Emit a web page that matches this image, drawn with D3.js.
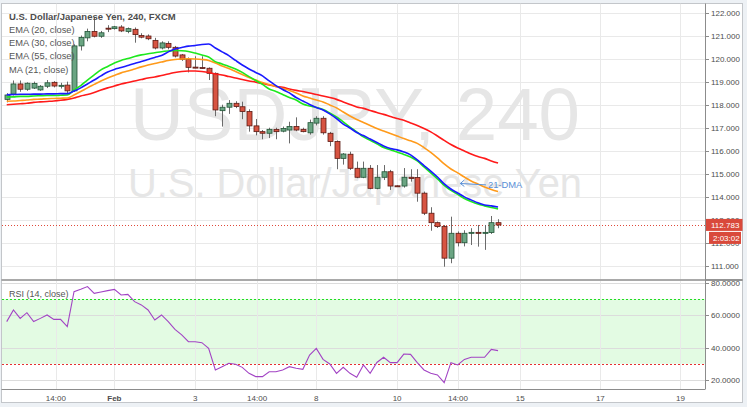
<!DOCTYPE html>
<html><head><meta charset="utf-8">
<script src="https://cdn.jsdelivr.net/npm/d3@7"></script>
<style>
body{margin:0;background:#edf1f5;}
svg{display:block;font-family:"Liberation Sans",Arial,sans-serif;}
</style>
</head><body>
<svg id="c" width="747" height="407"></svg>
<script>
// ---------- DATA ----------
const opens=[118.23,118.46,118.90,118.67,118.72,118.64,118.80,118.97,118.80,118.85,
118.60,120.55,120.90,121.18,120.97,121.32,121.30,121.37,121.18,121.27,
121.00,120.98,120.79,120.46,120.66,120.49,120.16,119.97,119.63,119.61,
119.58,119.36,117.74,117.89,118.06,117.91,117.70,117.08,116.83,116.76,
116.93,116.85,116.90,117.05,116.93,116.78,117.20,117.41,116.76,116.40,
115.67,115.85,115.24,114.85,115.24,114.37,114.85,115.09,114.48,114.47,
114.85,114.84,114.16,113.29,112.88,112.71,111.34,112.42,112.01,112.43,
112.46,112.44,112.45,112.88];
const highs=[118.50,119.05,119.05,118.97,119.00,118.85,119.07,119.02,118.95,119.00,
120.62,121.00,121.30,121.80,121.20,121.45,121.42,121.45,121.35,121.35,
121.10,121.05,120.90,120.75,120.75,120.55,120.20,120.05,120.10,120.10,
119.62,119.40,118.00,118.20,118.15,118.13,117.80,117.38,116.90,117.00,
117.00,117.05,117.26,117.45,117.00,117.35,117.50,117.50,116.82,116.45,
115.90,115.96,115.53,115.53,115.38,115.38,115.38,115.17,114.50,115.25,
115.20,115.20,114.23,113.55,112.93,112.78,113.14,112.50,112.55,112.64,
112.78,112.78,113.17,113.03];
const lows=[118.10,118.40,118.56,118.60,118.68,118.60,118.72,118.75,118.70,118.50,
118.55,120.35,120.75,120.92,120.90,121.15,121.26,121.15,121.10,120.69,
120.88,120.80,120.40,120.40,120.40,120.05,119.90,119.40,119.58,119.56,
119.07,117.50,117.05,117.60,117.85,117.37,116.83,116.67,116.50,116.55,
116.50,116.80,116.32,116.85,116.80,116.70,117.10,116.70,116.20,115.20,
115.40,115.17,114.81,114.81,114.33,114.33,114.73,114.30,114.45,114.40,
114.66,113.79,113.21,112.53,112.65,110.97,111.12,111.85,111.85,111.91,
111.84,111.70,112.39,112.64];
const closes=[118.42,118.90,118.67,118.93,118.92,118.80,118.95,118.81,118.84,118.60,
120.55,120.92,121.18,120.97,121.12,121.28,121.38,121.20,121.30,121.04,
120.93,120.86,120.46,120.68,120.49,120.11,119.97,119.62,119.60,119.60,
119.36,117.77,117.89,118.06,117.92,117.70,117.08,116.83,116.76,116.93,
116.83,116.97,117.05,116.90,116.83,117.22,117.41,116.78,116.40,115.67,
115.86,115.24,114.85,115.24,114.37,114.85,115.09,114.47,114.47,114.85,
114.80,114.16,113.29,112.88,112.71,111.34,112.42,112.01,112.42,112.46,
112.44,112.46,112.88,112.78];

const ema20=[118.33,118.34,118.36,118.36,118.38,118.39,118.40,118.40,118.41,118.42,
118.64,118.83,119.07,119.29,119.51,119.66,119.81,119.92,120.00,120.09,
120.16,120.21,120.25,120.30,120.33,120.35,120.34,120.31,120.24,120.16,
120.07,119.87,119.77,119.66,119.55,119.40,119.22,119.05,118.88,118.68,
118.57,118.44,118.31,118.20,118.03,117.94,117.88,117.79,117.64,117.47,
117.25,117.03,116.82,116.60,116.45,116.30,116.14,116.04,115.95,115.84,
115.73,115.56,115.30,115.04,114.78,114.50,114.28,114.11,113.93,113.80,
113.69,113.61,113.54,113.48];
const ma21=[118.43,118.44,118.45,118.45,118.46,118.46,118.47,118.47,118.48,118.48,
118.59,118.73,118.90,119.07,119.25,119.42,119.53,119.61,119.70,119.79,
119.87,119.96,120.05,120.13,120.29,120.42,120.48,120.54,120.57,120.61,
120.63,120.46,120.29,120.13,119.92,119.72,119.55,119.40,119.25,119.03,
118.83,118.66,118.51,118.31,118.16,118.01,117.88,117.77,117.60,117.40,
117.16,116.99,116.79,116.66,116.51,116.36,116.21,116.10,116.04,115.95,
115.82,115.60,115.36,115.12,114.86,114.56,114.34,114.17,114.00,113.87,
113.74,113.65,113.61,113.56];
const ema30=[118.15,118.16,118.18,118.20,118.23,118.24,118.26,118.27,118.28,118.29,
118.42,118.57,118.73,118.88,119.03,119.16,119.27,119.38,119.46,119.55,
119.64,119.72,119.79,119.85,119.92,119.96,119.98,119.99,119.98,119.96,
119.92,119.81,119.68,119.57,119.44,119.31,119.18,119.07,118.96,118.88,
118.79,118.70,118.62,118.51,118.38,118.29,118.20,118.12,117.99,117.86,
117.68,117.51,117.36,117.23,117.10,116.97,116.86,116.75,116.64,116.53,
116.43,116.32,116.14,115.93,115.69,115.43,115.21,115.04,114.86,114.69,
114.56,114.43,114.32,114.23];
const ema55=[118.00,118.02,118.04,118.06,118.10,118.12,118.14,118.16,118.19,118.23,
118.29,118.38,118.44,118.53,118.64,118.73,118.81,118.90,118.96,119.03,
119.09,119.16,119.20,119.27,119.33,119.40,119.44,119.46,119.46,119.44,
119.40,119.33,119.29,119.22,119.16,119.09,119.03,118.98,118.92,118.85,
118.79,118.75,118.68,118.62,118.57,118.51,118.44,118.38,118.31,118.23,
118.12,118.01,117.90,117.84,117.75,117.66,117.58,117.49,117.40,117.32,
117.21,117.10,116.97,116.82,116.64,116.45,116.27,116.12,115.99,115.86,
115.75,115.67,115.56,115.47];

const rsi=[56.0,63.2,58.0,61.5,56.0,58.0,60.1,57.4,57.4,52.9,
74.5,75.9,77.6,73.4,74.3,75.1,75.9,72.4,72.8,68.3,
66.3,63.2,57.0,60.1,56.0,51.2,47.8,43.6,43.6,43.0,
39.5,26.2,28.2,30.3,29.7,27.8,24.1,22.1,22.1,25.1,
25.1,26.2,28.2,27.2,26.6,35.4,39.5,32.7,29.9,24.1,
27.8,24.1,21.7,29.3,24.1,30.8,34.0,30.7,30.7,36.0,
35.8,30.7,26.2,24.1,23.1,18.4,30.7,29.3,32.7,34.0,
34.0,34.0,38.9,38.1];

const priceTicks=[111,112,113,114,115,116,117,118,119,120,121,122];
const rsiTicks=[20,40,60,80];
const rsiBands=[30,70];
const timeTickIdx=[7.3,16,28,37.2,46,58,67.05,76.3,88.2,100.1];
const timeTickLabels=["14:00","Feb","3","14:00","8","10","14:00","15","17","19"];
const boldTicks=["Feb"];
const titleText="U.S. Dollar/Japanese Yen, 240, FXCM";
const legendLabels=["EMA (20, close)","EMA (30, close)","EMA (55, close)","MA (21, close)"];
const rsiLabel="RSI (14, close)";
const lastPrice=112.783;
const countdown="2:03:02";
const watermark1="USDJPY, 240";
const watermark2="U.S. Dollar/Japanese Yen";
const annotationText="21-DMA";

// ---------- LAYOUT ----------
const svg=d3.select("#c");
const L=2,R=705,T=3.5,MB=279.5,RT=280.5,RB=389;
const x=d3.scaleLinear().domain([-0.7,103.75]).range([L,R]);
const y=d3.scaleLinear().domain([111,122]).range([266,12.5]);
const yr=d3.scaleLinear().domain([20,80]).range([380,282.7]);

// card
svg.append("rect").attr("x",1.5).attr("y",3.5).attr("width",741).attr("height",399)
  .attr("fill","#fff").attr("stroke","#c3c6ca");

const defs=svg.append("defs");
defs.append("clipPath").attr("id","cm").append("rect").attr("x",L).attr("y",T).attr("width",R-L).attr("height",MB-T);
defs.append("clipPath").attr("id","cr").append("rect").attr("x",L).attr("y",RT).attr("width",R-L).attr("height",RB-RT);

const grid="#e9e9e9";
// main grid
const gm=svg.append("g").attr("clip-path","url(#cm)");
gm.selectAll("line.h").data(priceTicks).join("line")
  .attr("x1",L).attr("x2",R).attr("y1",d=>Math.round(y(d))+0.5).attr("y2",d=>Math.round(y(d))+0.5)
  .attr("stroke",grid);
gm.selectAll("line.v").data(timeTickIdx).join("line").attr("class","v")
  .attr("x1",d=>Math.round(x(d))+0.5).attr("x2",d=>Math.round(x(d))+0.5).attr("y1",T).attr("y2",MB)
  .attr("stroke",grid);

// watermark
gm.append("text").attr("x",355).attr("y",140).attr("text-anchor","middle")
  .attr("font-size",74).attr("fill","#e6e6e6").attr("textLength",450).attr("lengthAdjust","spacingAndGlyphs")
  .text(watermark1);
gm.append("text").attr("x",355).attr("y",197).attr("text-anchor","middle")
  .attr("font-size",40).attr("fill","#e6e6e6").attr("textLength",454).attr("lengthAdjust","spacingAndGlyphs")
  .text(watermark2);

// RSI panel
const gr=svg.append("g").attr("clip-path","url(#cr)");
gr.append("rect").attr("x",L).attr("width",R-L).attr("y",yr(rsiBands[1])).attr("height",yr(rsiBands[0])-yr(rsiBands[1]))
  .attr("fill","#e3fbe3");
gr.selectAll("line.h").data(rsiTicks).join("line")
  .attr("x1",L).attr("x2",R).attr("y1",d=>Math.round(yr(d))+0.5).attr("y2",d=>Math.round(yr(d))+0.5)
  .attr("stroke","#dcdcdc");
gr.selectAll("line.v").data(timeTickIdx).join("line").attr("class","v")
  .attr("x1",d=>Math.round(x(d))+0.5).attr("x2",d=>Math.round(x(d))+0.5).attr("y1",RT).attr("y2",RB)
  .attr("stroke",grid);
gr.append("line").attr("x1",L).attr("x2",R).attr("y1",Math.round(yr(70))+0.5).attr("y2",Math.round(yr(70))+0.5)
  .attr("stroke","#22dd22").attr("stroke-dasharray","2,2");
gr.append("line").attr("x1",L).attr("x2",R).attr("y1",Math.round(yr(30))+0.5).attr("y2",Math.round(yr(30))+0.5)
  .attr("stroke","#e53030").attr("stroke-dasharray","2,2");
gr.append("path").datum(rsi).attr("fill","none").attr("stroke","#a244c4").attr("stroke-width",1.1)
  .attr("d",d3.line().x((d,i)=>x(i)).y(d=>yr(d)));

// current price line
gm.append("line").attr("x1",L).attr("x2",R).attr("y1",Math.round(y(lastPrice))+0.5).attr("y2",Math.round(y(lastPrice))+0.5)
  .attr("stroke","#e0493a").attr("stroke-dasharray","1,2");

// candles
const idx=d3.range(opens.length);
const cg=gm.append("g");
cg.selectAll("line.w").data(idx).join("line")
  .attr("x1",i=>Math.round(x(i))+0.5).attr("x2",i=>Math.round(x(i))+0.5)
  .attr("y1",i=>y(highs[i])).attr("y2",i=>y(lows[i]))
  .attr("stroke","#6b6b6b");
cg.selectAll("rect").data(idx).join("rect")
  .attr("x",i=>Math.round(x(i))-2)
  .attr("width",5)
  .attr("y",i=>y(Math.max(opens[i],closes[i])))
  .attr("height",i=>Math.max(1,Math.abs(y(opens[i])-y(closes[i]))))
  .attr("fill",i=>closes[i]>=opens[i]?"#6ba583":"#d75442")
  .attr("stroke",i=>closes[i]>=opens[i]?"#225437":"#5b1a13")
  .attr("stroke-width",0.8);

// MA lines
const line=d3.line().x((d,i)=>x(i)).y(d=>y(d)).curve(d3.curveMonotoneX);
const series=[[ema55,"#ff1a1a"],[ema30,"#ff9a1a"],[ema20,"#1ee81e"],[ma21,"#1a1aff"]];
series.forEach(([s,c])=>{
  gm.append("path").datum(s).attr("fill","none").attr("stroke",c).attr("stroke-width",1.6).attr("d",line);
});

// annotation
const ax0=x(71.2), ay=y(114.52), ax1=x(67.4), ay1=y(114.58);
gm.append("line").attr("x1",ax0).attr("y1",ay).attr("x2",ax1).attr("y2",ay1)
  .attr("stroke","#5a8fd6").attr("stroke-width",1);
gm.append("path").attr("d",`M${ax1+4},${ay1-3.5}L${ax1},${ay1}L${ax1+4},${ay1+3}`)
  .attr("fill","none").attr("stroke","#5a8fd6").attr("stroke-width",1);
gm.append("text").attr("x",ax0+2).attr("y",ay+3.3).attr("font-size",9.4).attr("fill","#5a8fd6").text(annotationText);

// title & legend
svg.append("text").attr("x",9).attr("y",20).attr("font-size",9.5).attr("font-weight","bold").attr("fill","#4d4d4d").text(titleText);
svg.selectAll("text.lg").data(legendLabels).join("text").attr("class","lg")
  .attr("x",9).attr("y",(d,i)=>32.6+i*13.3).attr("font-size",9.3).attr("fill","#555").text(d=>d);
svg.append("text").attr("x",9).attr("y",297).attr("font-size",9).attr("fill","#555").text(rsiLabel);

// frame lines
svg.append("line").attr("x1",R+0.5).attr("x2",R+0.5).attr("y1",3.5).attr("y2",RB).attr("stroke","#8c8c8c");
svg.append("line").attr("x1",1.5).attr("x2",742.5).attr("y1",280).attr("y2",280).attr("stroke","#8c8c8c").attr("stroke-width",1.5);
svg.append("line").attr("x1",1.5).attr("x2",R+0.5).attr("y1",RB+0.5).attr("y2",RB+0.5).attr("stroke","#8c8c8c");

// right price axis
const pa=svg.append("g");
pa.selectAll("line").data(priceTicks).join("line")
  .attr("x1",R+1).attr("x2",R+4).attr("y1",d=>Math.round(y(d))+0.5).attr("y2",d=>Math.round(y(d))+0.5).attr("stroke","#8c8c8c");
pa.selectAll("text").data(priceTicks).join("text")
  .attr("x",711).attr("y",d=>y(d)+3).attr("font-size",8).attr("fill","#4d4d4d").text(d=>d3.format(".3f")(d));

// RSI axis
const ra=svg.append("g");
ra.selectAll("line").data(rsiTicks).join("line")
  .attr("x1",R+1).attr("x2",R+4).attr("y1",d=>Math.round(yr(d))+0.5).attr("y2",d=>Math.round(yr(d))+0.5).attr("stroke","#8c8c8c");
ra.selectAll("text").data(rsiTicks).join("text")
  .attr("x",711).attr("y",d=>yr(d)+3).attr("font-size",8).attr("fill","#4d4d4d").text(d=>d3.format(".4f")(d));
// cover top of RSI axis label under the separator
svg.append("line").attr("x1",705.5).attr("x2",742.5).attr("y1",280).attr("y2",280).attr("stroke","#8c8c8c").attr("stroke-width",1.5);

// price label boxes
const py=y(lastPrice);
svg.append("rect").attr("x",706).attr("y",py-6).attr("width",36.5).attr("height",12).attr("fill","#d9493b");
svg.append("text").attr("x",711).attr("y",py+3).attr("font-size",8).attr("fill","#fff").text(d3.format(".3f")(lastPrice));
svg.append("rect").attr("x",709).attr("y",py+7).attr("width",32).attr("height",12).attr("fill","#d9493b");
svg.append("text").attr("x",713).attr("y",py+16).attr("font-size",8).attr("fill","#fff").text(countdown);

// time axis
svg.selectAll("text.tt").data(timeTickIdx).join("text").attr("class","tt")
  .attr("x",d=>x(d)).attr("y",400.5).attr("text-anchor","middle").attr("font-size",8)
  .attr("font-weight",(d,i)=>boldTicks.includes(timeTickLabels[i])?"bold":"normal")
  .attr("fill","#4d4d4d").text((d,i)=>timeTickLabels[i]);
</script>
</body></html>
